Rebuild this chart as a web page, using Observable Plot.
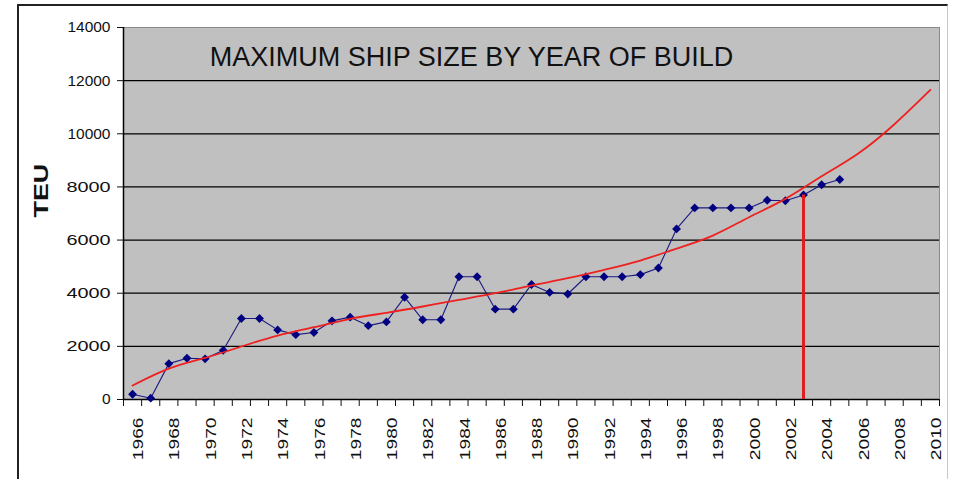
<!DOCTYPE html>
<html><head><meta charset="utf-8">
<script src="https://cdn.jsdelivr.net/npm/d3@7"></script>
<script src="https://cdn.jsdelivr.net/npm/@observablehq/plot@0.6"></script>
<style>
body{margin:0;background:#fff;}
#wrap{position:relative;width:953px;height:479px;overflow:hidden;}
#frame{position:absolute;left:17px;top:4px;width:931px;height:520px;border-top:2px solid #222;border-left:2px solid #222;border-right:1px solid #c8c8c8;box-sizing:border-box;}
#chart{position:absolute;left:0;top:0;}
</style></head><body>
<div id="wrap"><div id="frame"></div><div id="chart"></div></div>
<script>
// Category axis: years of build
const allYears = [1966,1967,1968,1969,1970,1971,1972,1973,1974,1975,1976,1977,1978,1979,1980,
  1981,1982,1983,1984,1985,1986,1987,1988,1989,1990,1991,1992,1993,1994,1995,1996,1997,1998,
  1999,2000,2001,2002,2003,2004,2005,2006,2007,2008,2009,2010];
const labelYears = [1966,1968,1970,1972,1974,1976,1978,1980,1982,1984,1986,1988,1990,1992,
  1994,1996,1998,2000,2002,2004,2006,2008,2010];

// Maximum ship size (TEU) by year of build
const shipYears = [1966,1967,1968,1969,1970,1971,1972,1973,1974,1975,1976,1977,1978,1979,1980,
  1981,1982,1983,1984,1985,1986,1987,1988,1989,1990,1991,1992,1993,1994,1995,1996,1997,1998,
  1999,2000,2001,2002,2003,2004,2005];
const shipTEU = [200,50,1350,1550,1530,1850,3050,3050,2620,2440,2520,2960,3100,2780,2920,
  3850,3000,3000,4620,4620,3400,3400,4330,4030,3970,4620,4620,4620,4700,4950,6420,7210,7210,
  7210,7210,7500,7480,7700,8080,8280];

// Trend curve
const trendYears = [1966,1968,1970,1972,1974,1976,1978,1980,1982,1984,1986,1988,1990,1992,
  1994,1996,1998,2000,2002,2004,2006,2008,2010];
const trendTEU = [527,1165,1568,1994,2408,2721,3036,3262,3500,3751,4000,4290,4565,4880,
  5230,5680,6170,6860,7550,8400,9250,10350,11650];

// Marker line
const markerYear = [2003];
const markerTEU = [7700];

const yTicks = [0,2000,4000,6000,8000,10000,12000,14000];
const gridValues = [2000,4000,6000,8000,10000,12000];
const titleText = "MAXIMUM SHIP SIZE BY YEAR OF BUILD";
const yLabel = "TEU";

const ship = shipYears.map((y,i)=>({year:y, teu:shipTEU[i]}));
const trend = trendYears.map((y,i)=>({year:y, teu:trendTEU[i]}));
const tickBounds = allYears.map(y=>y-0.5).concat([allYears[allYears.length-1]+0.5]);

const chart = Plot.plot({
  width: 953, height: 479,
  marginLeft: 123, marginRight: 14, marginTop: 27, marginBottom: 80,
  style: {fontFamily: "'Liberation Sans', Arial, sans-serif", background: "transparent", color: "#111"},
  x: {domain: [tickBounds[0], tickBounds[tickBounds.length-1]]},
  y: {domain: [0, 14000]},
  marks: [
    Plot.frame({fill: "#c0c0c0", stroke: "#8a8a8a"}),
    Plot.ruleY(gridValues, {stroke: "#000", strokeWidth: 1.3}),
    Plot.ruleY([0], {stroke: "#000", strokeWidth: 1.3}),
    Plot.ruleX([tickBounds[0]], {stroke: "#000", strokeWidth: 1.5}),
    Plot.axisY({ticks: yTicks, tickSize: 6, tickPadding: 7, fontSize: 15.5, tickFormat: d => String(d), label: null}),
    Plot.axisX({ticks: tickBounds, tickSize: 7, tickFormat: () => "", label: null}),
    Plot.axisX({ticks: labelYears, tickSize: 0, tickPadding: 18, rotate: -90, textAnchor: "end", fontSize: 15, tickFormat: d => String(d), label: null}),
    Plot.text([titleText], {frameAnchor: "top", dx: -60, dy: 30, text: d => d, fontSize: 27, fill: "#111", lineAnchor: "middle"}),
    Plot.text([yLabel], {frameAnchor: "left", dx: -82, dy: 4, rotate: -90, text: d => d, fontSize: 21, fontWeight: "bold", fill: "#111"}),
    Plot.line(ship, {x: "year", y: "teu", stroke: "#1a1a80", strokeWidth: 1.1}),
    Plot.dot(ship, {x: "year", y: "teu", symbol: "diamond2", r: 4, fill: "#000080", stroke: "none"}),
    Plot.line(trend, {x: "year", y: "teu", stroke: "#ee2020", strokeWidth: 1.8, curve: "natural"}),
    Plot.ruleX(markerYear.map((y,i)=>({year:y, teu:markerTEU[i]})), {x: "year", y1: 0, y2: "teu", stroke: "#e01e1e", strokeWidth: 3})
  ]
});
document.getElementById("chart").appendChild(chart);

// stretch rotated labels along their reading direction to match the reference
d3.select(chart).selectAll("text").each(function() {
  const t = this.textContent;
  if (/^\d{4}$/.test(t) || t === yLabel) {
    const tr = this.getAttribute("transform") || "";
    this.setAttribute("transform", tr + " scale(1.28,1)");
  }
});
</script>
</body></html>
